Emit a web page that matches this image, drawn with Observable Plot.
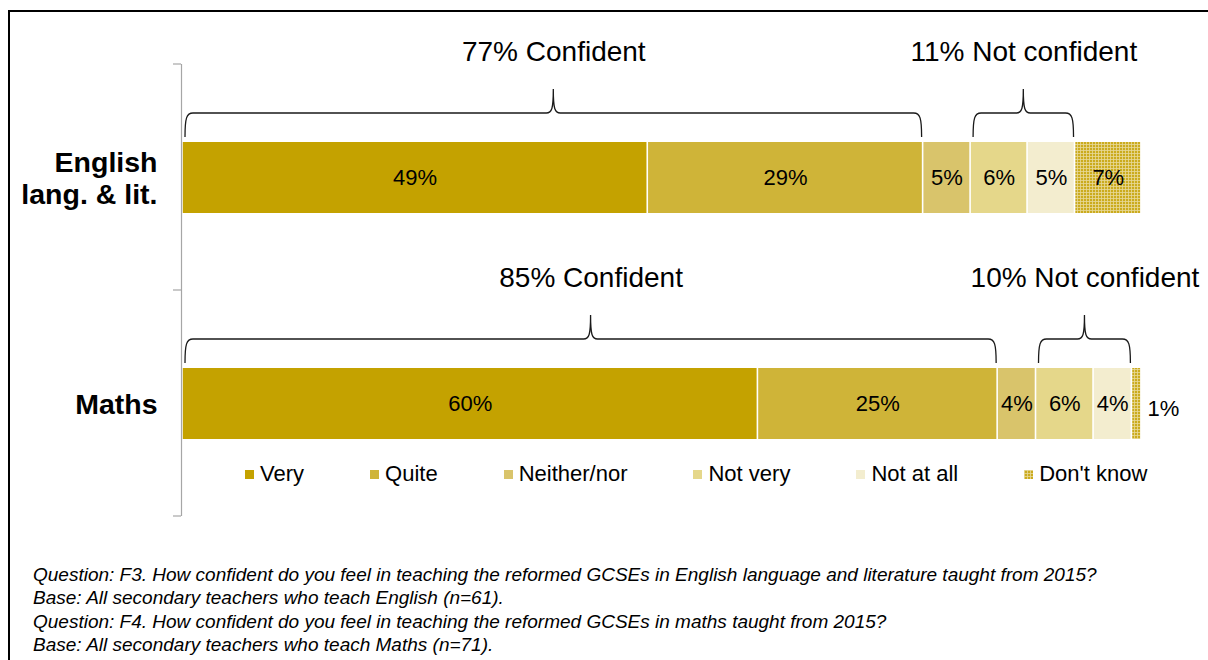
<!DOCTYPE html>
<html><head><meta charset="utf-8">
<script src="https://cdn.jsdelivr.net/npm/d3@7"></script>
<script src="https://cdn.jsdelivr.net/npm/@observablehq/plot@0.6"></script>
<style>
body{margin:0;overflow:hidden;background:#fff;font-family:"Liberation Sans",Arial,sans-serif;}
#wrap{position:relative;width:1208px;height:660px;overflow:hidden;}
#frame{position:absolute;left:8px;top:10px;width:1300px;height:800px;border:2.5px solid #000;box-sizing:border-box;}
#chart{position:absolute;left:0;top:0;}
#legend{position:absolute;left:245px;top:461px;display:flex;font-size:22px;color:#000;}
.item{display:flex;align-items:center;margin-right:66px;white-space:nowrap}
.sw{width:9px;height:9px;margin-right:6px;display:block}
#caption{position:absolute;left:33px;top:563px;font-style:italic;font-size:19px;line-height:23.3px;color:#000;white-space:nowrap}
</style></head><body>
<div id="wrap"><div id="frame"></div><div id="chart"></div><div id="legend"></div><div id="caption"></div></div>
<script>
const categories = ["English lang. & lit.", "Maths"];
const categoryLabels = ["English\nlang. & lit.", "Maths"];
const responses = ["Very", "Quite", "Neither/nor", "Not very", "Not at all", "Don't know"];
const englishValues = [49, 29, 5, 6, 5, 7];
const mathsValues = [60, 25, 4, 6, 4, 1];
const confidentLabels = ["77% Confident", "85% Confident"];
const notConfidentLabels = ["11% Not confident", "10% Not confident"];
const colors = ["#C4A200", "#CFB438", "#D9C46B", "#E5D78A", "#F3EDCF", "url(#dk)"];
const captionLines = [
  "Question: F3. How confident do you feel in teaching the reformed GCSEs in English language and literature taught from 2015?",
  "Base: All secondary teachers who teach English (n=61).",
  "Question: F4. How confident do you feel in teaching the reformed GCSEs in maths taught from 2015?",
  "Base: All secondary teachers who teach Maths (n=71)."
];

const seriesByCategory = [englishValues, mathsValues];
const table = categories.flatMap((c, i) => responses.map((r, j) => ({category: c, response: r, value: seriesByCategory[i][j]})));

// brace spans derived from the stacked (normalized) values
const braces = categories.flatMap((c, i) => {
  const v = seriesByCategory[i];
  const total = d3.sum(v);
  const cum = d3.cumsum(v).map(d => d / total);
  return [
    {category: c, x1: 0, x2: cum[1], label: confidentLabels[i]},
    {category: c, x1: cum[2], x2: cum[4], label: notConfidentLabels[i]}
  ];
});

const barInset = 78;
const font = '"Liberation Sans", Arial, sans-serif';

const axisTicks = (index, scales) => {
  const g = d3.create("svg:g").attr("stroke", "#a6a6a6").attr("stroke-width", 1.2);
  const y = scales.y, bw = y.bandwidth();
  const x0 = scales.x(0) - 1;
  const bounds = [y(categories[0]), ...categories.map(c => y(c) + bw)];
  for (const b of bounds) g.append("line").attr("x1", x0 - 8).attr("x2", x0).attr("y1", b).attr("y2", b);
  return g.node();
};

const braceMark = (index, scales) => {
  const g = d3.create("svg:g").attr("fill", "none").attr("stroke", "#1a1a1a").attr("stroke-width", 1.3);
  for (const b of braces) {
    const top = scales.y(b.category) + barInset;
    const a = scales.x(b.x1) + 3, c = scales.x(b.x2) - 1, m = (a + c) / 2;
    const yb = top - 5, yh = top - 29, yt = top - 53;
    g.append("path").attr("d",
      `M${a},${yb} C${a},${yh + 5} ${a + 1.5},${yh} ${a + 8},${yh} L${m - 7},${yh} ` +
      `C${m - 1.5},${yh} ${m},${yh - 4} ${m},${yt} C${m},${yh - 4} ${m + 1.5},${yh} ${m + 7},${yh} ` +
      `L${c - 8},${yh} C${c - 1.5},${yh} ${c},${yh + 5} ${c},${yb}`);
  }
  return g.node();
};

const plot = Plot.plot({
  width: 1208, height: 530,
  marginLeft: 182, marginRight: 67, marginTop: 64, marginBottom: 14,
  x: {domain: [0, 1], axis: null},
  y: {domain: categories, padding: 0, axis: null},
  color: {domain: responses, range: colors},
  style: {fontFamily: font, color: "#000", background: "transparent"},
  marks: [
    Plot.barX(table, Plot.stackX({offset: "normalize", x: "value", y: "category", fill: "response",
      insetTop: barInset, insetBottom: barInset - 1, insetLeft: 0.8, insetRight: 0.8})),
    Plot.text(table, Plot.stackX({offset: "normalize", x: "value", y: "category",
      text: d => d.value >= 2 ? d.value + "%" : "", fontSize: 22, fill: "#000"})),
    Plot.text(table, Plot.stackX2({offset: "normalize", x: "value", y: "category",
      text: d => d.value < 2 ? d.value + "%" : "", fontSize: 22, fill: "#000", textAnchor: "start", dx: 6, dy: 5})),
    Plot.ruleX([0], {stroke: "#a6a6a6", strokeWidth: 1.2, dx: -1}),
    axisTicks,
    braceMark,
    Plot.text(braces, {x: d => (d.x1 + d.x2) / 2, y: "category", text: "label", dy: -125, dx: 1, fontSize: 28, fill: "#000"}),
    Plot.text(categories, {y: d => d, frameAnchor: "left", text: (d, i) => categoryLabels[i], textAnchor: "end",
      dx: -25, fontWeight: "bold", fontSize: 28.5, lineHeight: 1.14, fill: "#000"})
  ]
});

const defs = d3.select(plot).insert("defs", ":first-child");
const pat = defs.append("pattern").attr("id", "dk").attr("width", 3).attr("height", 3).attr("patternUnits", "userSpaceOnUse");
pat.append("rect").attr("width", 3).attr("height", 3).attr("fill", "#CBAB1E");
pat.append("path").attr("d", "M0,0.5H3M0.5,0V3").attr("stroke", "#fff").attr("stroke-width", 0.8).attr("opacity", 0.55);

document.getElementById("chart").appendChild(plot);

const legend = d3.select("#legend");
responses.forEach((r, i) => {
  const item = legend.append("div").attr("class", "item");
  const sw = item.append("svg").attr("class", "sw").attr("width", 9).attr("height", 9);
  sw.append("rect").attr("width", 9).attr("height", 9).attr("fill", colors[i]);
  item.append("span").text(r);
});

d3.select("#caption").selectAll("div").data(captionLines).join("div").text(d => d);
</script>
</body></html>
